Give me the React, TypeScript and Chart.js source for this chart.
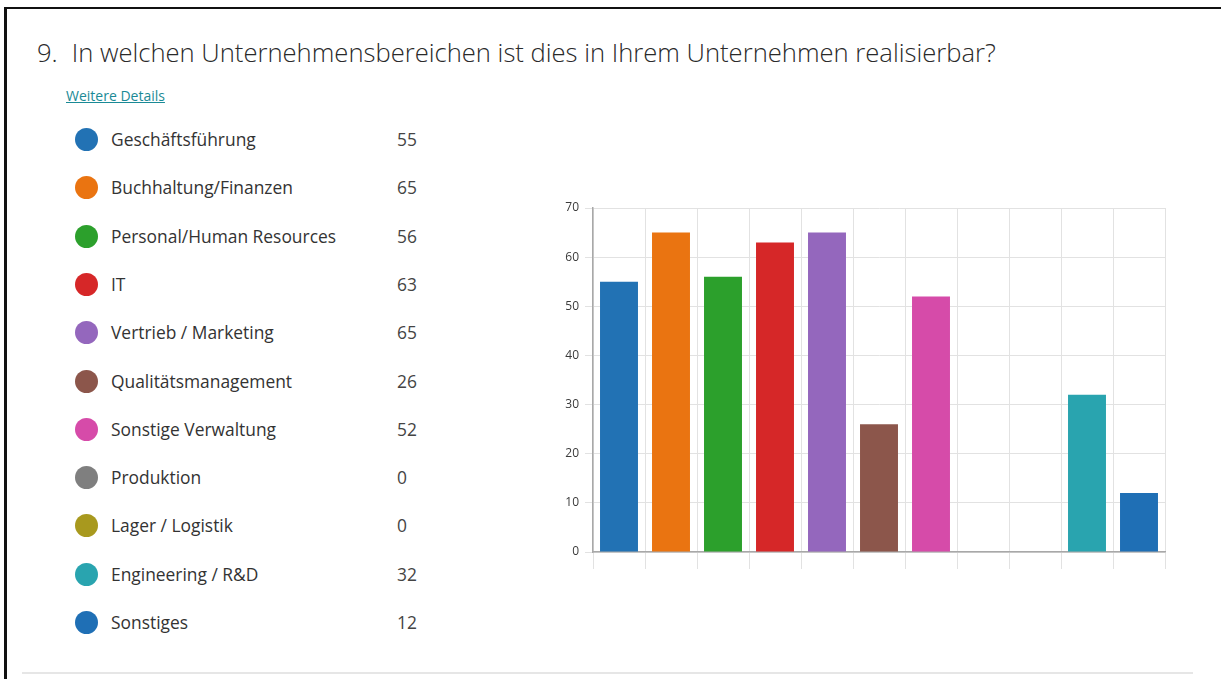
import React, { useEffect, useRef } from "react";
import { Chart, registerables } from "chart.js";

Chart.register(...registerables);

const categories: string[] = [
  "Geschäftsführung",
  "Buchhaltung/Finanzen",
  "Personal/Human Resources",
  "IT",
  "Vertrieb / Marketing",
  "Qualitätsmanagement",
  "Sonstige Verwaltung",
  "Produktion",
  "Lager / Logistik",
  "Engineering / R&D",
  "Sonstiges",
];

const counts: number[] = [55, 65, 56, 63, 65, 26, 52, 0, 0, 32, 12];

const colors: string[] = [
  "#2272b4",
  "#ea7411",
  "#2ca02c",
  "#d62728",
  "#9467bd",
  "#8c564b",
  "#d64ba9",
  "#7f7f7f",
  "#a8991e",
  "#29a4af",
  "#1f6fb5",
];

const yTicks: number[] = [0, 10, 20, 30, 40, 50, 60, 70];

const titleNumber = "9.";
const titleText = "In welchen Unternehmensbereichen ist dies in Ihrem Unternehmen realisierbar?";
const linkText = "Weitere Details";

const FONT = "'Open Sans', 'Noto Sans', sans-serif";

export default function App() {
  const canvasRef = useRef<HTMLCanvasElement | null>(null);

  useEffect(() => {
    if (!canvasRef.current) return;
    const chart = new Chart(canvasRef.current, {
      type: "bar",
      data: {
        labels: categories,
        datasets: [
          {
            data: counts,
            backgroundColor: colors,
            borderWidth: 0,
            barPercentage: 0.73,
            categoryPercentage: 1,
          },
        ],
      },
      options: {
        animation: false,
        responsive: false,
        maintainAspectRatio: false,
        layout: { padding: { top: 18, right: 35, left: 0, bottom: 0 } },
        plugins: {
          legend: { display: false },
          tooltip: { enabled: false },
        },
        scales: {
          x: {
            ticks: { display: false },
            grid: {
              color: "#e2e2e2",
              lineWidth: 1,
              tickLength: 17,
              offset: true,
            },
            border: { color: "#a8a8a8", width: 1.5 },
            afterFit: (scale: any) => {
              scale.height = 18;
            },
          },
          y: {
            min: 0,
            max: 70,
            afterBuildTicks: (scale: any) => {
              scale.ticks = yTicks.map((v) => ({ value: v }));
            },
            ticks: {
              color: "#3a3a3a",
              font: { family: FONT, size: 12 },
              padding: 6,
            },
            grid: { color: "#e2e2e2", lineWidth: 1, tickLength: 8 },
            border: { color: "#a8a8a8", width: 1.5 },
            afterFit: (scale: any) => {
              scale.width = 73;
            },
          },
        },
      },
    });
    return () => chart.destroy();
  }, []);

  return (
    <div
      style={{
        position: "fixed",
        left: 0,
        top: 0,
        width: 1221,
        height: 679,
        background: "#fff",
        overflow: "hidden",
        fontFamily: FONT,
      }}
    >
      <div
        style={{
          position: "absolute",
          left: 4,
          top: 7,
          width: 3,
          height: 680,
          background: "#111",
        }}
      />
      <div
        style={{
          position: "absolute",
          left: 4,
          top: 7,
          width: 1230,
          height: 2,
          background: "#111",
        }}
      />
      <div
        style={{
          position: "absolute",
          left: 37,
          top: 37,
          fontSize: 25.6,
          fontWeight: 300,
          color: "#2a2a2a",
          whiteSpace: "nowrap",
          lineHeight: "32px",
        }}
      >
        <span>{titleNumber}</span>
        <span style={{ marginLeft: 14 }}>{titleText}</span>
      </div>
      <div
        style={{
          position: "absolute",
          left: 66,
          top: 86,
          fontSize: 14,
          color: "#1a8a96",
          textDecoration: "underline",
          lineHeight: "20px",
        }}
      >
        {linkText}
      </div>
      {categories.map((c, i) => (
        <div
          key={c}
          style={{
            position: "absolute",
            left: 75,
            top: 128 + i * 48.3,
            height: 24,
            width: 360,
          }}
        >
          <div
            style={{
              position: "absolute",
              left: 0,
              top: 0,
              width: 23,
              height: 23,
              borderRadius: "50%",
              background: colors[i],
            }}
          />
          <div
            style={{
              position: "absolute",
              left: 36,
              top: 0,
              fontSize: 17.4,
              lineHeight: "23px",
              color: "#333",
              whiteSpace: "nowrap",
            }}
          >
            {c}
          </div>
          <div
            style={{
              position: "absolute",
              left: 322,
              top: 0,
              fontSize: 17.4,
              lineHeight: "23px",
              color: "#444",
            }}
          >
            {counts[i]}
          </div>
        </div>
      ))}
      <canvas
        ref={canvasRef}
        width={680}
        height={380}
        style={{ position: "absolute", left: 520, top: 190, width: 680, height: 380 }}
      />
      <div
        style={{
          position: "absolute",
          left: 22,
          top: 672,
          width: 1171,
          height: 2,
          background: "#e6e6e6",
        }}
      />
    </div>
  );
}
